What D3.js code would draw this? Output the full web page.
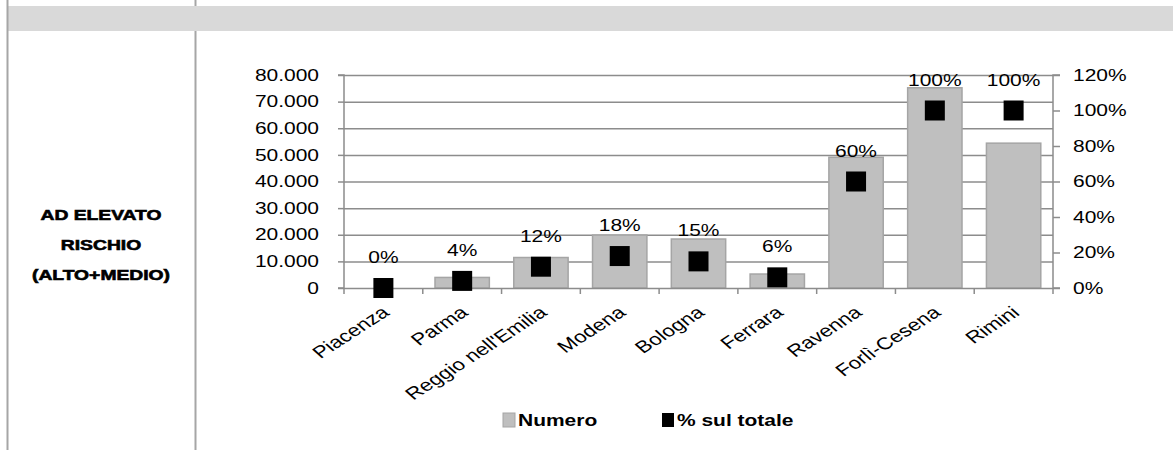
<!DOCTYPE html>
<html><head><meta charset="utf-8">
<script src="https://cdn.jsdelivr.net/npm/d3@7"></script>
<style>body{margin:0;background:#fff}svg{display:block}</style>
</head><body>
<svg id="c" width="1173" height="450"></svg>
<script>
const categories = ["Piacenza","Parma","Reggio nell'Emilia","Modena","Bologna","Ferrara","Ravenna","Forlì-Cesena","Rimini"];
const numero = [0,3970,11450,19900,18400,5250,49100,75200,54400];
const percent = [0,4,12,18,15,6,60,100,100];
const leftTicks = [0,10000,20000,30000,40000,50000,60000,70000,80000];
const rightTicks = [0,20,40,60,80,100,120];
const rowLabel = ["AD ELEVATO","RISCHIO","(ALTO+MEDIO)"];
const legendLabels = ["Numero","% sul totale"];

const SX = 1.31;
const svg = d3.select("#c");
const font = "'Liberation Sans', Arial, sans-serif";
const lineCol = "#a6a6a6";
function stretch(sel, k){
  sel.each(function(){
    const L = this.getComputedTextLength();
    d3.select(this).attr("textLength", L*(k||SX)).attr("lengthAdjust","spacingAndGlyphs");
  });
}

// table frame
svg.append("rect").attr("x",7).attr("y",6).attr("width",1166).attr("height",25).attr("fill","#d9d9d9");
svg.append("line").attr("x1",7.5).attr("x2",7.5).attr("y1",0).attr("y2",450).attr("stroke",lineCol).attr("stroke-width",2);
svg.append("line").attr("x1",195.5).attr("x2",195.5).attr("y1",0).attr("y2",6).attr("stroke",lineCol).attr("stroke-width",2);
svg.append("line").attr("x1",195.5).attr("x2",195.5).attr("y1",31).attr("y2",450).attr("stroke",lineCol).attr("stroke-width",2);

// row label
svg.append("g").selectAll("text").data(rowLabel).join("text")
  .attr("x",101).attr("y",(d,i)=>215+i*30).attr("dy","0.35em").attr("text-anchor","middle")
  .style("font-family",font).style("font-weight","900").style("font-size","14.5px")
  .attr("stroke","#000").attr("stroke-width",0.6)
  .text(d=>d).call(stretch, 1.33);

const x0 = 344, x1 = 1053, yTop = 75, yBot = 288;
const x = d3.scaleBand().domain(categories).range([x0,x1]).paddingInner(0.31).paddingOuter(0.155);
const xb = d3.scaleBand().domain(categories).range([x0,x1]);
const yL = d3.scaleLinear().domain([0,80000]).range([yBot,yTop]);
const yR = d3.scaleLinear().domain([0,120]).range([yBot,yTop]);
const grid = "#8c8c8c";

// gridlines
svg.append("g").selectAll("line").data(leftTicks.slice(1)).join("line")
  .attr("x1",x0).attr("x2",x1).attr("y1",d=>yL(d)+0.5).attr("y2",d=>yL(d)+0.5)
  .attr("stroke",grid).attr("stroke-width",1.5);

// bars
svg.append("g").selectAll("rect").data(categories).join("rect")
  .attr("x",(d)=>x(d)).attr("width",x.bandwidth())
  .attr("y",(d,i)=>yL(numero[i])).attr("height",(d,i)=>yBot-yL(numero[i]))
  .attr("fill","#bfbfbf").attr("stroke","#a5a5a5").attr("stroke-width",1.5);

// left axis
const fmt = d => d3.format(",")(d).replace(/,/g,".");
const gL = svg.append("g").attr("transform",`translate(${x0},0)`)
  .call(d3.axisLeft(yL).tickValues(leftTicks).tickFormat(fmt).tickSize(6).tickPadding(19));
// right axis
const gR = svg.append("g").attr("transform",`translate(${x1},0)`)
  .call(d3.axisRight(yR).tickValues(rightTicks).tickFormat(d=>d+"%").tickSize(7).tickPadding(13));
// bottom axis (ticks at boundaries)
const gB = svg.append("g").attr("transform",`translate(0,${yBot})`);
gB.append("line").attr("x1",x0).attr("x2",x1).attr("y1",0.5).attr("y2",0.5).attr("stroke",grid).attr("stroke-width",1.5);
const bounds = categories.map(c=>xb(c)).concat([x1]);
gB.selectAll("line.t").data(bounds).join("line").attr("class","t")
  .attr("x1",d=>d).attr("x2",d=>d).attr("y1",0).attr("y2",6).attr("stroke",grid).attr("stroke-width",1.5);
gB.selectAll("text").data(categories).join("text")
  .attr("transform",d=>`translate(${xb(d)+xb.bandwidth()/2-3},${17}) scale(${SX},1) rotate(-40)`)
  .attr("text-anchor","end").attr("dy","0.71em")
  .style("font-family",font).style("font-size","17px").attr("fill","#000").text(d=>d);

[gL,gR].forEach(g=>{
  g.select(".domain").attr("stroke",grid).attr("stroke-width",1.5);
  g.selectAll(".tick line").attr("stroke",grid).attr("stroke-width",1.5);
  g.selectAll(".tick text").style("font-family",font).style("font-size","16px").attr("fill","#000").call(stretch);
});
gL.select(".domain").attr("d",`M-6,${yTop}H0V${yBot}H-6`);
gR.select(".domain").attr("d",`M7,${yTop}H0V${yBot}H7`);

// markers
const ms = 20;
svg.append("g").selectAll("rect").data(categories).join("rect")
  .attr("x",d=>xb(d)+xb.bandwidth()/2-ms/2).attr("y",(d,i)=>yR(percent[i])-ms/2)
  .attr("width",ms).attr("height",ms).attr("fill","#000");
// labels
svg.append("g").selectAll("text").data(categories).join("text")
  .attr("x",d=>xb(d)+xb.bandwidth()/2).attr("y",(d,i)=>yR(percent[i])-25)
  .attr("text-anchor","middle").style("font-family",font).style("font-size","16px")
  .text((d,i)=>percent[i]+"%").call(stretch);

// legend
const lg = svg.append("g");
const lx = [503,662];
lg.append("rect").attr("x",lx[0]).attr("y",413).attr("width",12).attr("height",14).attr("fill","#bfbfbf").attr("stroke","#a5a5a5").attr("stroke-width",1);
lg.append("rect").attr("x",lx[1]).attr("y",413).attr("width",12).attr("height",14).attr("fill","#000");
lg.selectAll("text").data(legendLabels).join("text")
  .attr("x",(d,i)=>lx[i]+15).attr("y",420).attr("dy","0.35em")
  .style("font-family",font).style("font-size","16px").style("font-weight","bold").text(d=>d).call(stretch);
</script>
</body></html>
